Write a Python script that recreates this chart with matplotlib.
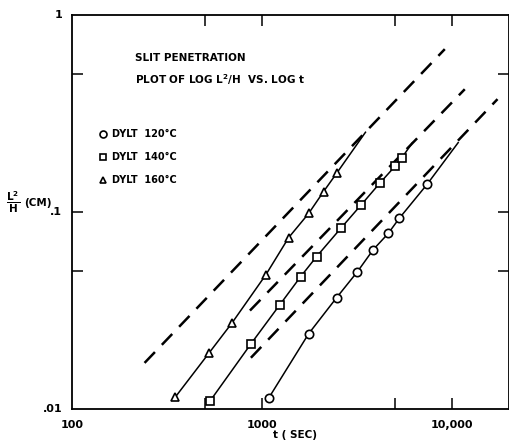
import numpy as np
import matplotlib; matplotlib.use('Agg')
import matplotlib.pyplot as plt
from matplotlib.ticker import FixedLocator, NullLocator

# DYLT 160 C (triangles)
T160 = [350, 528, 697, 1050, 1384, 1762, 2112, 2471]
V160 = [0.0115, 0.0193, 0.0274, 0.0481, 0.0742, 0.0983, 0.127, 0.157]
# DYLT 140 C (squares)
T140 = [534, 875, 1242, 1600, 1940, 2623, 3340, 4200, 5030, 5470]
V140 = [0.011, 0.0214, 0.0338, 0.047, 0.0594, 0.0834, 0.109, 0.141, 0.171, 0.189]
# DYLT 120 C (circles)
T120 = [1088, 1762, 2471, 3185, 3856, 4624, 5278, 7400]
V120 = [0.0114, 0.0241, 0.0367, 0.0498, 0.0644, 0.0778, 0.0927, 0.138]
# solid curve continues a little past the last point
TAIL160 = (3510, 0.254)
TAIL140 = (6200, 0.225)
TAIL120 = (10800, 0.225)

# dashed slope-1 reference lines (start, end)
DASH_T = [(241, 9183), (865, 11700), (875, 17400)]
DASH_V = [(0.01714, 0.671), (0.0316, 0.420), (0.0182, 0.374)]

XT_MAJ = [100, 1000, 10000]
XT_LAB = ['100', '1000', '10,000']
XT_MIN = [500, 5000]
YT_MAJ = [0.01, 0.1, 1]
YT_LAB = ['.01', '.1', '1']
YT_MIN = [0.05, 0.5]

plt.rcParams['font.family'] = 'DejaVu Sans'
plt.rcParams['font.weight'] = 'bold'

fig = plt.figure(figsize=(5.10, 4.42), dpi=100)
ax = fig.add_axes([72/510, 1-409/442, (509-72)/510, (409-15)/442])
ax.set_xscale('log'); ax.set_yscale('log')
ax.set_xlim(100, 20000); ax.set_ylim(0.01, 1)

for t, v in zip(DASH_T, DASH_V):
    ax.plot(t, v, color='k', lw=1.8, dashes=(6, 4), solid_capstyle='butt')

for T, V, tail, mk in [(T160, V160, TAIL160, '^'), (T140, V140, TAIL140, 's'), (T120, V120, TAIL120, 'o')]:
    ax.plot(T + [tail[0]], V + [tail[1]], '-', color='k', lw=1.1)
    ax.plot(T, V, mk, ms=6 if mk != 's' else 5.5, mfc='white', mec='k', mew=1.2, ls='none', zorder=3)

ax.xaxis.set_major_locator(FixedLocator(XT_MIN + [1000, 10000]))
ax.xaxis.set_minor_locator(NullLocator())
ax.yaxis.set_major_locator(FixedLocator(YT_MIN + [0.1]))
ax.yaxis.set_minor_locator(NullLocator())
ax.tick_params(which='both', direction='in', length=8, width=1.1, top=True, right=True,
               labelbottom=False, labelleft=False)
for s in ax.spines.values():
    s.set_linewidth(1.3)

for x, lab in zip(XT_MAJ, XT_LAB):
    ax.annotate(lab, (x, 0.01), xytext=(0, -8), textcoords='offset points',
                ha='center', va='top', fontsize=8)
for y, lab in zip(YT_MAJ, YT_LAB):
    ax.annotate(lab, (100, y), xytext=(-7, 0), textcoords='offset points',
                ha='right', va='center', fontsize=8)

fig.text(295/510, 1-435/442, 't ( SEC)', ha='center', va='center', fontsize=7.5)
fig.text(6/510, 1-202/442, r'$\mathbf{\dfrac{L^2}{H}}$', ha='left', va='center', fontsize=7.5)
fig.text(24/510, 1-203/442, '(CM)', ha='left', va='center', fontsize=7.5)

fig.text(135/510, 1-58/442, 'SLIT PENETRATION', fontsize=7.5, va='center')
fig.text(135/510, 1-80/442, r'PLOT OF LOG L$^\mathbf{2}$/H  VS. LOG t', fontsize=7.5, va='center')

for i, (mk, lab) in enumerate([('o', 'DYLT  120°C'), ('s', 'DYLT  140°C'), ('^', 'DYLT  160°C')]):
    yy = 1 - (134 + 23*i)/442
    fig.lines.append(plt.Line2D([103/510], [yy], marker=mk, ms=5, mfc='white', mec='k', mew=1.2,
                                transform=fig.transFigure))
    fig.text(112/510, yy, lab, fontsize=7, va='center')

fig.savefig('out.png', dpi=100)
